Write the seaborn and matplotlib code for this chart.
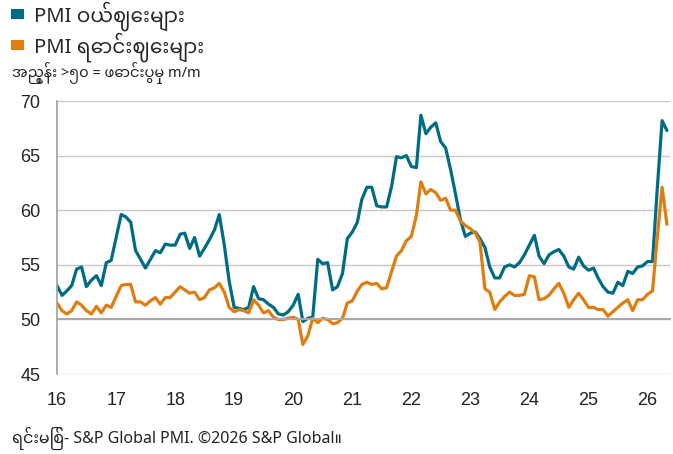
import matplotlib
matplotlib.use("Agg")
import matplotlib.pyplot as plt
import matplotlib.dates as mdates
from matplotlib.patches import Patch
import numpy as np
import pandas as pd
import seaborn as sns

# monthly readings, Jan 2016 - May 2026
input_prices = [
    53.1, 52.2, 52.6, 53.1, 54.6, 54.8, 53.0, 53.6, 54.0, 53.1, 55.2, 55.4,
    57.5, 59.6, 59.4, 58.9, 56.3, 55.5, 54.7, 55.5, 56.3, 56.1, 56.9, 56.8,
    56.8, 57.8, 57.9, 56.5, 57.5, 55.8, 56.5, 57.3, 58.2, 59.6, 56.8, 53.5,
    51.1, 51.0, 50.9, 51.1, 53.0, 51.9, 51.8, 51.4, 51.1, 50.5, 50.4, 50.7,
    51.3, 52.3, 49.8, 50.1, 50.2, 55.5, 55.1, 55.2, 52.7, 53.0, 54.2, 57.4,
    58.0, 58.9, 61.0, 62.1, 62.1, 60.4, 60.3, 60.3, 62.2, 64.9, 64.8, 65.0,
    64.0, 63.9, 68.7, 67.0, 67.6, 68.0, 66.3, 65.7, 63.7, 61.5, 59.1, 57.6,
    57.9, 58.0, 57.4, 56.6, 54.8, 53.8, 53.8, 54.8, 55.0, 54.8, 55.2, 55.9,
    56.8, 57.7, 55.8, 55.1, 55.9, 56.2, 56.4, 55.8, 54.8, 54.6, 55.7, 54.9,
    54.5, 54.7, 53.8, 53.0, 52.5, 52.4, 53.4, 53.1, 54.4, 54.2, 54.8, 54.9,
    55.3, 55.3, 61.7, 68.2, 67.3,
]
output_prices = [
    51.5, 50.8, 50.5, 50.8, 51.6, 51.3, 50.8, 50.5, 51.2, 50.6, 51.3, 51.1,
    52.1, 53.1, 53.2, 53.2, 51.6, 51.6, 51.3, 51.7, 52.0, 51.4, 52.0, 52.0,
    52.5, 53.0, 52.7, 52.4, 52.5, 51.8, 52.0, 52.7, 52.9, 53.3, 52.5, 51.1,
    50.7, 50.9, 50.8, 50.6, 51.8, 51.3, 50.6, 50.8, 50.2, 50.0, 50.0, 50.1,
    50.2, 50.0, 47.7, 48.5, 50.1, 49.7, 50.1, 50.0, 49.6, 49.7, 50.1, 51.5,
    51.7, 52.6, 53.2, 53.4, 53.2, 53.3, 52.8, 52.9, 54.4, 55.8, 56.3, 57.2,
    57.6, 59.5, 62.6, 61.5, 61.9, 61.6, 60.9, 61.1, 60.0, 60.0, 59.0, 58.6,
    58.3, 57.9, 57.1, 52.8, 52.5, 50.9, 51.6, 52.1, 52.5, 52.2, 52.2, 52.3,
    54.0, 53.9, 51.8, 51.9, 52.2, 52.8, 53.3, 52.4, 51.1, 51.8, 52.4, 51.8,
    51.1, 51.1, 50.9, 50.9, 50.3, 50.7, 51.1, 51.5, 51.8, 50.8, 51.8, 51.8,
    52.3, 52.6, 57.3, 62.1, 58.7,
]
series_names = ["PMI ဝယ်ဈေးများ", "PMI ရောင်းဈေးများ"]
series_colors = ["#006b85", "#e07d10"]
subtitle = "အညွှန်း >၅၀ = ဖောင်းပွမှု m/m"
source = "ရင်းမြစ်- S&P Global PMI. ©2026 S&P Global။"
y_ticks = [45, 50, 55, 60, 65, 70]

dates = pd.date_range("2016-01-01", periods=len(input_prices), freq="MS")
df = pd.DataFrame({
    "date": np.concatenate([dates, dates]),
    "value": input_prices + output_prices,
    "series": [series_names[0]] * len(dates) + [series_names[1]] * len(dates),
})

sns.set_style("white")
plt.rcParams["font.family"] = ["Noto Sans Myanmar", "Noto Sans", "DejaVu Sans"]

fig = plt.figure(figsize=(6.73, 4.54), dpi=100)
ax = fig.add_axes([57 / 673, 1 - 374 / 454, 613 / 673, 273 / 454])

sns.lineplot(data=df, x="date", y="value", hue="series", palette=series_colors,
             linewidth=2.3, ax=ax, legend=False)

ax.set_ylim(45, 70)
ax.set_yticks(y_ticks)
ax.set_xlim(pd.Timestamp("2016-01-01"), pd.Timestamp("2026-05-20"))
ax.xaxis.set_major_locator(mdates.YearLocator())
ax.xaxis.set_major_formatter(mdates.DateFormatter("%y"))
ax.set_xlabel("")
ax.set_ylabel("")

ax.grid(axis="y", color="#c8c8c8", linewidth=1)
ax.set_axisbelow(True)
for s in ["top", "right"]:
    ax.spines[s].set_visible(False)
ax.spines["left"].set_color("#a0a0a0")
ax.spines["left"].set_linewidth(1.2)
ax.spines["bottom"].set_position(("data", 50))
ax.spines["bottom"].set_color("#a8a8a8")
ax.spines["bottom"].set_linewidth(1.5)

ax.tick_params(axis="y", length=5, color="#a0a0a0", labelsize=13, pad=7)
ax.tick_params(axis="x", length=5, color="#a0a0a0", labelsize=13, pad=47)
for lab in ax.get_xticklabels() + ax.get_yticklabels():
    lab.set_fontfamily(["Liberation Sans", "DejaVu Sans"])
    lab.set_color("#222222")

handles = [Patch(facecolor=c, edgecolor="none") for c in series_colors]
fig.legend(handles=handles, labels=series_names, loc="upper left",
           bbox_to_anchor=(-3 / 673, 1.028), frameon=False, fontsize=14.5,
           handlelength=0.65, handleheight=0.4, handletextpad=0.5,
           labelspacing=0.07, borderaxespad=0.3)

fig.text(12 / 673, 1 - 73 / 454, subtitle, fontsize=10.5, va="center", ha="left",
         color="#222222")
fig.text(12 / 673, 1 - 438 / 454, source, fontsize=11.5, va="center", ha="left",
         color="#222222")

fig.savefig("out.png", dpi=100)
